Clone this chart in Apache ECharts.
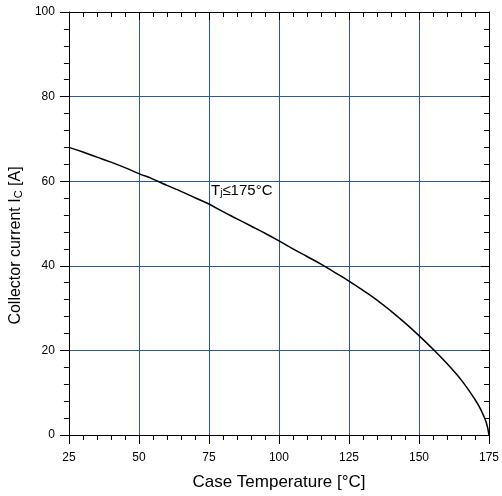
<!DOCTYPE html>
<html>
<head>
<meta charset="utf-8">
<script src="https://cdn.jsdelivr.net/npm/echarts@6/dist/echarts.min.js"></script>
<style>
  html, body { margin: 0; padding: 0; background: #fff; }
  #chart { width: 502px; height: 496px; }
</style>
</head>
<body>
<div id="chart"></div>
<script>
// case temperature [°C] and derated collector current [A]
const caseTemp = [25, 30, 35, 40, 45, 50, 55, 60, 65, 70, 75, 80, 85, 90, 95, 100, 105, 110, 115, 120, 125, 130, 135, 140, 145, 150, 155, 160, 165, 170, 172, 174, 175];
const collectorCurrent = [68, 66.9, 65.7, 64.5, 63.2, 61.8, 60.5, 59, 57.6, 56.1, 54.6, 52.8, 51.1, 49.4, 47.7, 45.9, 44, 42.2, 40.4, 38.4, 36.4, 34.2, 31.9, 29.3, 26.5, 23.5, 20.3, 16.9, 13.1, 8.4, 6.1, 3, 0];
const xTicks = [25, 50, 75, 100, 125, 150, 175];
const yTicks = [0, 20, 40, 60, 80, 100];

const gridBlue = '#2a55a6';
const labelFont = '"Liberation Sans Narrow", "Liberation Sans", sans-serif';
const titleFont = '"Liberation Sans", sans-serif';

const chart = echarts.init(document.getElementById('chart'));

// bottom / left axes: ticks pointing outward
const outerAxis = {
  axisLine: { show: true, onZero: false, lineStyle: { color: '#000', width: 1 } },
  axisTick: { show: true, length: 9, lineStyle: { color: '#000' } },
  minorTick: { show: true, splitNumber: 5, length: 5, lineStyle: { color: '#000' } },
  minorSplitLine: { show: false }
};
// top / right axes: frame with ticks pointing inward, no labels
const mirrorAxis = {
  axisLine: { show: true, onZero: false, lineStyle: { color: '#000', width: 1 } },
  axisTick: { show: true, inside: true, length: 8, lineStyle: { color: '#000' } },
  minorTick: { show: true, splitNumber: 5, length: 5, lineStyle: { color: '#000' } },
  axisLabel: { show: false },
  splitLine: { show: false }
};

const option = {
  animation: false,
  grid: { left: 67, right: 11, top: 12, bottom: 61 },
  xAxis: [
    Object.assign({}, outerAxis, {
      type: 'value', min: xTicks[0], max: xTicks[xTicks.length - 1], interval: 25,
      position: 'bottom',
      name: 'Case Temperature [°C]', nameLocation: 'middle', nameGap: 39,
      nameTextStyle: { fontSize: 17, color: '#000', fontFamily: titleFont },
      axisLabel: { fontSize: 12, color: '#000', margin: 17, fontFamily: labelFont },
      splitLine: { show: true, lineStyle: { color: gridBlue, width: 1 } }
    }),
    Object.assign({}, mirrorAxis, {
      type: 'value', min: xTicks[0], max: xTicks[xTicks.length - 1], interval: 25,
      position: 'top'
    })
  ],
  yAxis: [
    Object.assign({}, outerAxis, {
      type: 'value', min: yTicks[0], max: yTicks[yTicks.length - 1], interval: 20,
      position: 'left',
      name: '{n|Collector current I}{s|C}{n| [A]}', nameLocation: 'middle', nameGap: 38,
      nameTextStyle: {
        padding: [0, 44, 0, 0],
        rich: {
          n: { fontSize: 16, color: '#000', fontFamily: titleFont },
          s: { fontSize: 11, color: '#000', fontFamily: titleFont, padding: [5, 0, 0, 0] }
        }
      },
      axisLabel: { fontSize: 12, color: '#000', margin: 14, fontFamily: labelFont },
      splitLine: { show: true, lineStyle: { color: gridBlue, width: 1 } }
    }),
    Object.assign({}, mirrorAxis, {
      type: 'value', min: yTicks[0], max: yTicks[yTicks.length - 1], interval: 20,
      position: 'right'
    })
  ],
  series: [{
    type: 'line',
    data: caseTemp.map((t, i) => [t, collectorCurrent[i]]),
    smooth: 0.4,
    showSymbol: false,
    lineStyle: { color: '#000', width: 1.5 },
    z: 5
  }],
  graphic: [{
    type: 'text',
    left: 211,
    top: 183,
    style: {
      text: '{n|T}{s|j}{n|≤175°C}',
      rich: {
        n: { fontSize: 15, fill: '#000', fontFamily: titleFont },
        s: { fontSize: 10, fill: '#000', fontFamily: titleFont, padding: [6, 0, 0, 0] }
      }
    }
  }]
};

chart.setOption(option);
</script>
</body>
</html>
